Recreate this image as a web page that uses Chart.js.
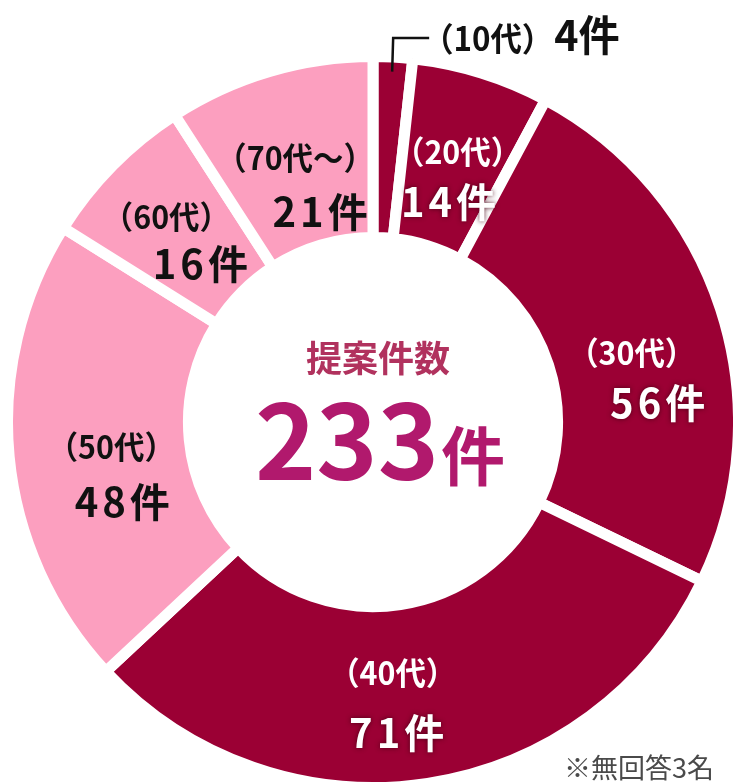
<!DOCTYPE html>
<html lang="ja">
<head>
<meta charset="utf-8">
<script src="https://cdn.jsdelivr.net/npm/chart.js@4.4.1/dist/chart.umd.min.js"></script>
<style>
  html, body { margin: 0; padding: 0; background: #fff; overflow: hidden; }
  #wrap { position: relative; width: 733px; height: 784px; }
</style>
</head>
<body>
<div id="wrap"><canvas id="myChart" width="733" height="784"></canvas></div>
<script>
// data
const ageGroups = ['10代', '20代', '30代', '40代', '50代', '60代', '70代～'];
const counts = [4, 14, 56, 71, 48, 16, 21];
const totalProposals = 233;
const noAnswer = 3;

const DARK = '#9b0034';
const PINK = '#fc9fbf';
const sliceColors = [DARK, DARK, DARK, DARK, PINK, PINK, PINK];
const textColors = ['#000', '#fff', '#fff', '#fff', '#111', '#111', '#111'];

// label offsets from each slice's anchor point: [line1 dx, dy, line2 dx, dy]
const labelShift = [
  null,
  [4, -10, -5, 40],
  [0, 15, 26, 65],
  [-21, -18, -17, 42],
  [9, -1, 20, 54],
  [-13, -14, 21, 33],
  [-1, -3, 24, 51]
];

const JP = '"Noto Sans CJK JP", "Noto Sans", sans-serif';

function condensed(ctx, text, x, y, font, color, sx, align) {
  ctx.save();
  ctx.font = font;
  ctx.fillStyle = color;
  ctx.textAlign = align || 'center';
  ctx.textBaseline = 'middle';
  ctx.translate(x, y);
  ctx.scale(sx, 1);
  ctx.fillText(text, 0, 0);
  ctx.restore();
}

const labelPlugin = {
  id: 'ageLabels',
  afterDatasetsDraw(chart) {
    const ctx = chart.ctx;
    const arcs = chart.getDatasetMeta(0).data;
    const cx = arcs[0].x, cy = arcs[0].y;

    arcs.forEach((arc, i) => {
      const p = arc.getProps(['startAngle', 'endAngle', 'outerRadius', 'innerRadius']);
      const mid = (p.startAngle + p.endAngle) / 2;
      if (i === 0) {
        // small slice: leader line to an outside label
        const r = p.outerRadius * 0.96;
        const x0 = cx + Math.cos(mid) * r;
        const y0 = cy + Math.sin(mid) * r;
        const ly = 38;
        ctx.save();
        ctx.strokeStyle = '#111';
        ctx.lineWidth = 2.5;
        ctx.beginPath();
        ctx.moveTo(x0, y0);
        ctx.lineTo(x0 + 1, ly);
        ctx.lineTo(x0 + 37, ly);
        ctx.stroke();
        ctx.restore();
        condensed(ctx, '（' + ageGroups[i] + '）', x0 + 30, ly, 'bold 33px ' + JP, '#111', 0.95, 'left');
        condensed(ctx, counts[i] + '件', x0 + 162, ly - 3, 'bold 42px ' + JP, '#111', 0.98, 'left');
        return;
      }
      const ax = cx + Math.cos(mid) * 272;
      const ay = cy + Math.sin(mid) * 272;
      const s = labelShift[i];
      condensed(ctx, '（' + ageGroups[i] + '）', ax + s[0], ay + s[1], 'bold 32px ' + JP, textColors[i], 0.95);

      ctx.save();
      ctx.font = 'bold 40px ' + JP;
      ctx.letterSpacing = '4px';
      ctx.textAlign = 'center';
      ctx.textBaseline = 'middle';
      if (textColors[i] === '#fff') {
        ctx.shadowColor = 'rgba(70,0,20,0.9)';
        ctx.shadowBlur = 5;
      }
      ctx.fillStyle = textColors[i];
      ctx.fillText(counts[i] + '件', ax + s[2] + 2, ay + s[3]);
      ctx.restore();
    });

    // centre total
    ctx.save();
    ctx.textBaseline = 'middle';
    ctx.textAlign = 'center';
    ctx.fillStyle = '#b1325e';
    ctx.font = 'bold 36px ' + JP;
    ctx.fillText('提案件数', cx + 5, cy - 64);

    ctx.fillStyle = '#b1196d';
    ctx.textBaseline = 'alphabetic';
    ctx.textAlign = 'left';
    ctx.font = 'bold 104px ' + JP;
    const numW = ctx.measureText(String(totalProposals)).width;
    ctx.font = 'bold 64px ' + JP;
    const unitW = ctx.measureText('件').width;
    const startX = cx + 6 - (numW + unitW) / 2;
    ctx.font = 'bold 104px ' + JP;
    ctx.fillText(String(totalProposals), startX, cy + 58);
    ctx.font = 'bold 64px ' + JP;
    ctx.fillText('件', startX + numW + 2, cy + 58);
    ctx.restore();

    // footnote
    ctx.save();
    ctx.font = '27px ' + JP;
    ctx.fillStyle = '#4a4a4a';
    ctx.textAlign = 'right';
    ctx.textBaseline = 'alphabetic';
    ctx.fillText('※無回答' + noAnswer + '名', 714, 778);
    ctx.restore();
  }
};

const ctx = document.getElementById('myChart').getContext('2d');
const chart = new Chart(ctx, {
  type: 'doughnut',
  data: {
    labels: ageGroups,
    datasets: [{
      data: counts,
      backgroundColor: sliceColors,
      borderColor: '#ffffff',
      borderWidth: 11,
      hoverOffset: 0
    }]
  },
  options: {
    responsive: false,
    animation: false,
    events: [],
    radius: 365.5,
    cutout: '50.5%',
    rotation: 0,
    layout: { padding: { left: 13, right: 0, top: 60, bottom: 0 } },
    plugins: {
      legend: { display: false },
      tooltip: { enabled: false }
    }
  },
  plugins: [labelPlugin]
});
</script>
</body>
</html>
